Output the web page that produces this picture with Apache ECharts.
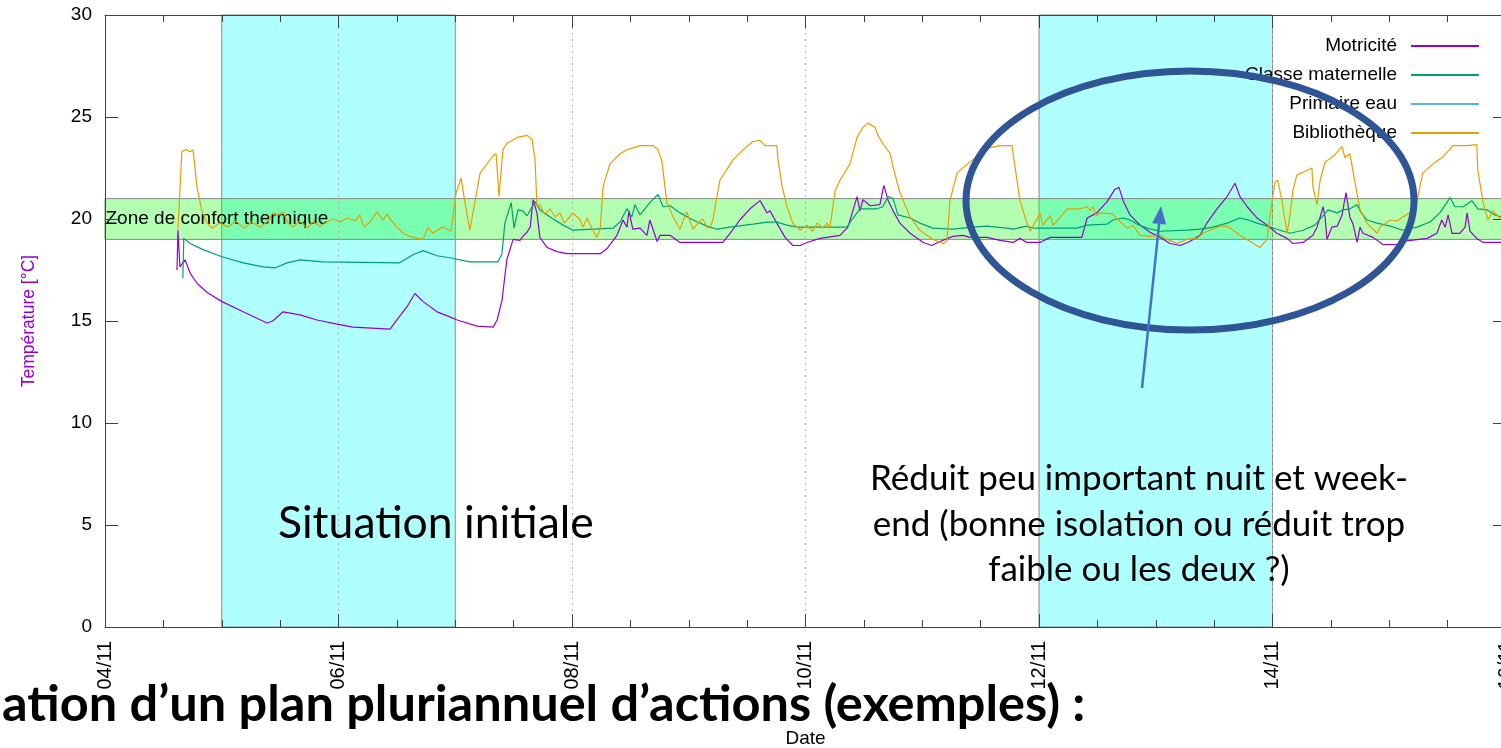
<!DOCTYPE html>
<html><head><meta charset="utf-8">
<script src="https://cdn.jsdelivr.net/npm/echarts@6/dist/echarts.min.js"></script>
<style>html,body{margin:0;padding:0;overflow:hidden;background:#fff}#c{width:1510px;height:748px}</style>
</head><body><div id="c"></div>
<script>
// hours since 04/11 00:00
const xTickLabels = ['04/11','06/11','08/11','10/11','12/11','14/11','16/11'];
const yTickValues = [0,5,10,15,20,25,30];
const comfortZone = [19, 21];
const weekendBands = [[24, 72], [192, 240]];
const seriesNames = ['Motricité','Classe maternelle','Primaire eau','Bibliothèque'];
const seriesColors = ['#9400d3','#009e73','#56b4e9','#e69f00'];

const motricite = [
[14.8,17.5],[15.0,19.45],[15.4,17.65],[16.45,18.0],[17.5,17.35],[18.9,16.85],[21.0,16.4],[24.05,15.95],[28.4,15.45],[33.3,14.9],[34.5,15.0],[36.6,15.45],[40.1,15.3],[43.6,15.05],[47.7,14.85],[51.0,14.7],[58.6,14.6],[60.0,15.05],[62.1,15.7],[63.7,16.35],[65.4,15.95],[68.25,15.45],[70.9,15.2],[72.4,15.05],[76.5,14.75],[79.8,14.7],[80.6,15.05],[81.6,16.0],[82.6,18.0],[83.9,19.0],[85.3,18.95],[85.9,19.15],[86.75,19.35],[87.4,19.6],[88.0,20.95],[88.8,20.3],[89.4,19.1],[90.9,18.6],[92.9,18.4],[95.0,18.3],[101.8,18.3],[103.2,18.55],[105.25,19.2],[106.5,19.95],[107.3,19.6],[107.7,20.4],[108.5,19.5],[110.0,19.55],[111.4,19.2],[112.0,19.95],[113.5,18.9],[114.1,19.2],[116.15,19.2],[118.2,18.85],[127.0,18.85],[128.5,19.3],[130.5,19.95],[132.6,20.5],[134.65,20.9],[136.1,20.3],[136.7,20.4],[138.1,19.8],[139.8,19.1],[141.4,18.7],[142.9,18.7],[144.3,18.85],[147.0,19.05],[151.1,19.2],[152.7,19.6],[153.8,20.45],[154.6,21.1],[155.2,20.4],[155.8,20.95],[157.3,20.65],[159.3,20.7],[160.1,21.65],[161.0,20.9],[162.0,20.4],[163.4,19.8],[165.5,19.3],[168.2,18.85],[170.0,18.7],[171.65,18.9],[174.3,19.15],[176.4,19.2],[177.8,19.1],[181.3,19.1],[184.0,18.95],[186.7,18.85],[188.1,19.05],[189.5,18.85],[192.2,18.85],[194.3,19.1],[200.8,19.1],[201.9,20.05],[203.9,20.3],[206.0,20.85],[207.6,21.45],[208.45,21.55],[209.3,20.9],[210.7,20.2],[212.8,19.7],[214.8,19.35],[216.9,19.1],[218.9,18.8],[221.0,18.7],[223.0,18.9],[225.1,19.2],[226.5,19.8],[228.6,20.5],[230.65,21.1],[232.3,21.75],[233.3,21.1],[234.8,20.6],[236.8,20.05],[238.9,19.7],[240.9,19.3],[243.0,19.05],[244.2,18.8],[246.3,18.85],[248.3,19.2],[249.15,19.6],[249.8,20.1],[250.4,20.6],[250.8,20.1],[251.2,19.0],[252.2,19.6],[253.3,19.65],[254.3,20.2],[255.1,21.3],[255.9,20.1],[256.55,19.75],[257.4,18.85],[258.0,19.6],[258.6,19.3],[260.7,19.1],[262.7,18.75],[265.6,18.75],[266.8,18.9],[271.8,19.05],[273.8,19.3],[274.8,19.95],[275.5,19.6],[276.1,20.2],[276.9,19.3],[278.5,19.3],[279.6,19.6],[280.0,20.3],[280.6,19.4],[282.0,19.05],[283.3,18.85],[287.0,18.85]
];

const classeMaternelle = [
[16.0,17.1],[16.2,19.05],[17.5,18.8],[20.15,18.5],[24.05,18.15],[28.4,17.85],[32.5,17.65],[34.95,17.6],[37.4,17.85],[40.1,18.0],[44.8,17.9],[60.6,17.85],[63.3,18.25],[65.4,18.45],[68.25,18.2],[70.9,18.1],[75.0,17.9],[80.8,17.9],[81.6,18.3],[82.2,19.8],[83.5,20.8],[84.1,19.55],[84.9,20.45],[85.9,20.4],[86.75,20.15],[87.8,20.6],[88.4,20.85],[89.4,20.45],[91.5,20.1],[94.15,19.7],[96.2,19.45],[104.4,19.55],[105.9,19.85],[107.3,20.5],[108.3,20.1],[108.95,20.7],[110.0,20.2],[112.0,20.8],[113.7,21.2],[114.7,20.6],[116.15,20.65],[118.2,20.3],[120.9,19.95],[123.75,19.65],[125.8,19.5],[128.5,19.6],[133.2,19.75],[136.1,19.85],[138.1,19.85],[140.2,19.7],[142.25,19.6],[152.5,19.6],[153.8,20.05],[155.2,20.5],[158.7,20.5],[159.9,20.6],[161.0,21.1],[162.0,21.0],[163.0,20.2],[165.5,20.05],[167.5,19.8],[170.2,19.55],[174.3,19.5],[178.4,19.6],[181.3,19.65],[185.4,19.55],[186.7,19.5],[189.5,19.65],[190.8,19.55],[199.8,19.55],[201.9,19.7],[206.0,19.75],[207.2,19.95],[209.3,20.05],[210.7,19.95],[212.15,19.75],[214.2,19.55],[216.9,19.4],[222.4,19.45],[225.1,19.5],[227.8,19.6],[230.65,19.8],[233.3,20.05],[235.0,19.95],[236.8,19.8],[238.9,19.65],[240.9,19.5],[243.6,19.3],[246.3,19.45],[248.7,19.7],[250.2,20.1],[251.4,20.45],[253.3,20.3],[254.5,20.45],[255.9,20.5],[257.4,20.7],[258.0,20.4],[259.4,19.95],[261.5,19.8],[264.2,19.65],[266.8,19.45],[269.7,19.6],[272.4,19.85],[274.4,20.3],[276.5,21.05],[277.5,20.6],[279.2,20.6],[281.0,20.9],[282.2,20.5],[284.1,20.45],[285.7,20.2],[287.0,20.1]
];

const primaireEau = [];

const bibliotheque = [
[15.0,19.5],[15.8,23.3],[16.65,23.4],[17.5,23.3],[18.1,23.4],[18.9,21.6],[19.9,20.4],[21.0,19.8],[22.0,19.55],[23.6,19.8],[25.3,19.6],[26.9,19.9],[28.6,19.55],[30.2,19.85],[31.9,19.6],[33.5,19.9],[34.5,20.3],[35.6,20.2],[36.6,20.35],[37.6,19.8],[38.65,19.6],[40.1,19.9],[41.5,19.55],[42.8,19.85],[44.2,19.65],[45.6,19.85],[46.9,20.0],[48.3,19.85],[49.75,20.05],[51.4,19.9],[52.4,20.2],[53.25,19.6],[54.5,19.85],[55.9,20.35],[57.15,19.95],[58.0,20.25],[58.6,20.0],[60.0,19.6],[61.3,19.3],[62.7,19.15],[64.1,19.05],[65.4,19.0],[66.4,19.6],[67.4,19.3],[68.25,19.45],[69.5,19.6],[71.1,19.4],[72.2,21.3],[73.2,22.0],[74.0,20.8],[75.0,19.45],[75.65,20.3],[77.1,22.25],[79.8,23.1],[80.4,23.2],[81.0,21.1],[81.8,23.4],[82.6,23.7],[84.7,24.0],[86.75,24.1],[87.8,23.9],[88.4,22.9],[88.8,20.6],[89.4,20.7],[90.45,20.2],[91.5,20.5],[92.5,20.1],[93.5,20.3],[94.4,19.8],[95.0,19.95],[96.2,20.3],[97.65,19.95],[98.3,19.6],[99.1,20.05],[100.3,19.45],[101.1,19.1],[101.8,19.5],[102.4,21.6],[103.8,22.7],[105.9,23.2],[107.3,23.4],[110.0,23.6],[112.65,23.6],[113.7,23.4],[114.5,22.8],[115.5,20.8],[116.8,20.1],[118.2,19.5],[119.0,20.0],[119.6,20.35],[120.9,19.5],[121.9,19.8],[122.9,20.0],[123.75,19.6],[124.4,19.55],[125.0,20.0],[126.4,21.9],[129.1,22.9],[131.2,23.4],[133.2,23.8],[134.65,23.85],[135.7,23.6],[138.1,23.6],[138.35,22.9],[139.2,21.6],[140.2,20.6],[141.4,19.8],[142.9,19.45],[144.3,19.7],[145.5,19.4],[146.4,19.8],[147.6,19.55],[148.4,19.8],[149.0,19.55],[150.1,21.4],[151.1,21.9],[153.15,22.7],[154.6,24.0],[155.8,24.5],[156.85,24.7],[158.3,24.5],[158.9,24.1],[159.9,23.7],[161.4,23.2],[162.0,22.55],[163.4,21.3],[165.5,20.1],[167.5,19.45],[170.2,19.0],[172.3,18.8],[173.1,18.95],[173.7,20.9],[175.15,22.25],[177.8,22.8],[181.9,23.5],[184.0,23.6],[186.45,23.6],[187.1,22.5],[188.1,20.9],[189.5,19.8],[190.2,19.4],[191.6,20.0],[192.2,20.3],[192.8,19.7],[194.3,20.15],[194.9,19.7],[196.3,20.05],[197.8,20.5],[200.4,20.5],[201.9,20.6],[202.5,20.4],[203.1,20.6],[203.9,20.15],[204.5,20.3],[207.2,20.25],[208.25,19.95],[210.1,19.55],[211.3,19.7],[212.8,19.2],[214.8,19.15],[216.9,19.2],[218.3,19.0],[220.4,18.8],[222.4,19.0],[224.5,19.05],[225.7,19.3],[227.2,19.45],[229.2,19.65],[230.65,19.65],[231.9,19.45],[233.3,19.2],[235.4,18.9],[237.4,18.6],[238.9,19.0],[239.5,20.2],[240.5,21.8],[241.1,21.9],[242.0,20.8],[243.0,19.3],[243.6,20.2],[244.2,21.4],[245.0,22.15],[247.3,22.4],[248.1,22.5],[248.3,21.6],[249.15,20.7],[249.8,21.9],[250.8,22.8],[252.4,23.05],[254.3,23.55],[254.9,23.0],[255.9,23.2],[257.0,21.75],[258.0,20.45],[259.4,19.8],[261.5,19.3],[262.1,19.6],[262.7,19.7],[264.2,19.95],[265.6,19.9],[266.8,20.1],[268.3,20.3],[269.7,20.9],[270.9,22.25],[273.0,22.7],[275.05,23.05],[277.1,23.6],[280.0,23.6],[282.0,23.65],[282.2,22.4],[283.3,20.8],[284.3,19.95],[285.3,20.4],[287.0,20.0]
];

const gnuFont = 'Liberation Sans';
const chart = echarts.init(document.getElementById('c'), null, {renderer: 'canvas', width: 1510, height: 748});

const lineSeries = [motricite, classeMaternelle, primaireEau, bibliotheque].map((d, i) => ({
  name: seriesNames[i], type: 'line', data: d, showSymbol: false, symbol: 'none',
  z: 3, lineStyle: {width: 1.2, color: seriesColors[i]}, itemStyle: {color: seriesColors[i]},
  animation: false
}));

const tickStyle = {color: '#404040', width: 1};
const lineAx = {onZero: false, lineStyle: {color: '#404040', width: 1}};
const option = {
  animation: false,
  backgroundColor: '#fff',
  grid: {left: 105, right: 4, top: 15, bottom: 121, containLabel: false, outerBoundsMode: 'none'},
  legend: {
    data: seriesNames, orient: 'vertical', right: 26, top: 31.5, align: 'right',
    icon: 'rect', itemWidth: 68, itemHeight: 2, itemGap: 10,
    textStyle: {fontFamily: gnuFont, fontSize: 19, color: '#000', lineHeight: 16, padding: [0, 9, 0, 0]}
  },
  xAxis: [{
    type: 'value', min: 0, max: 288, interval: 48, z: 5,
    name: 'Date', nameLocation: 'middle', nameGap: 102,
    nameTextStyle: {fontFamily: gnuFont, fontSize: 19, color: '#000'},
    axisLine: Object.assign({show: true}, lineAx),
    axisTick: {inside: true, length: 13, lineStyle: tickStyle},
    minorTick: {show: true, splitNumber: 4, length: 7, lineStyle: tickStyle},
    axisLabel: {rotate: 90, margin: 14, fontFamily: gnuFont, fontSize: 20, color: '#000',
      formatter: v => xTickLabels[Math.round(v / 48)]},
    splitLine: {show: true, lineStyle: {color: '#b0b0b0', type: [2, 4], width: 1}}
  }, {
    type: 'value', min: 0, max: 288, interval: 48, position: 'top', z: 5,
    axisLine: Object.assign({show: true}, lineAx),
    axisTick: {inside: true, length: 13, lineStyle: tickStyle},
    minorTick: {show: true, splitNumber: 4, length: 7, lineStyle: tickStyle},
    axisLabel: {show: false}, splitLine: {show: false}
  }],
  yAxis: [{
    type: 'value', min: 0, max: 30, interval: 5, z: 5,
    name: 'Température [°C]', nameLocation: 'middle', nameGap: 67,
    nameTextStyle: {fontFamily: gnuFont, fontSize: 17.5, color: '#9400d3'},
    axisLine: Object.assign({show: true}, lineAx),
    axisTick: {show: true, inside: true, length: 13, lineStyle: tickStyle},
    axisLabel: {margin: 13, fontFamily: gnuFont, fontSize: 19, color: '#000',
      formatter: v => yTickValues.includes(v) ? String(v) : ''},
    splitLine: {show: false}
  }, {
    type: 'value', min: 0, max: 30, interval: 5, position: 'right', z: 5,
    axisLine: Object.assign({show: true}, lineAx),
    axisTick: {show: true, inside: true, length: 13, lineStyle: tickStyle},
    axisLabel: {show: false}, splitLine: {show: false}
  }],
  series: [{
    name: '_weekend', type: 'line', data: [], z: 1, silent: true,
    markArea: {silent: true, itemStyle: {color: '#afffff', borderColor: '#8a8a8a', borderWidth: 1},
      data: weekendBands.map(b => [{xAxis: b[0], yAxis: 0}, {xAxis: b[1], yAxis: 30}])}
  }, {
    name: '_confort', type: 'line', data: [], z: 1, silent: true,
    markArea: {silent: true, itemStyle: {color: 'rgba(0,255,0,0.3)', borderColor: '#8a8a8a', borderWidth: 1},
      label: {show: true, position: 'insideLeft', distance: 1, color: '#000', fontFamily: gnuFont, fontSize: 19},
      data: [[{xAxis: 0, yAxis: comfortZone[0], name: 'Zone de confort thermique'}, {xAxis: 288, yAxis: comfortZone[1]}]]}
  }].concat(lineSeries),
  graphic: [
    {type: 'ellipse', z: 100, shape: {cx: 1190, cy: 200.5, rx: 224, ry: 129.5},
      style: {fill: 'none', stroke: '#2f5597', lineWidth: 7}},
    {type: 'line', z: 100, shape: {x1: 1142, y1: 388, x2: 1159.1, y2: 223.9},
      style: {stroke: '#4472c4', lineWidth: 2.5}},
    {type: 'polygon', z: 100, shape: {points: [[1161, 206], [1166.1, 224.6], [1152.1, 223.2]]},
      style: {fill: '#4472c4'}},
    {type: 'text', z: 100, x: 278, y: 524,
      style: {text: 'Situation initiale', font: '44.5px Lato', fill: '#000', align: 'left', verticalAlign: 'middle'}},
    {type: 'text', z: 100, x: 1139, y: 524.5,
      style: {text: 'Réduit peu important nuit et week-\nend (bonne isolation ou réduit trop\nfaible ou les deux ?)',
        font: '35px Lato', lineHeight: 45.5, fill: '#000', align: 'center', verticalAlign: 'middle'}},
    {type: 'text', z: 110, x: 2, y: 705,
      style: {text: 'ation d’un plan pluriannuel d’actions (exemples) :', font: 'bold 50.5px Lato', fill: '#000', align: 'left', verticalAlign: 'middle'}}
  ]
};
chart.setOption(option);
</script></body></html>
